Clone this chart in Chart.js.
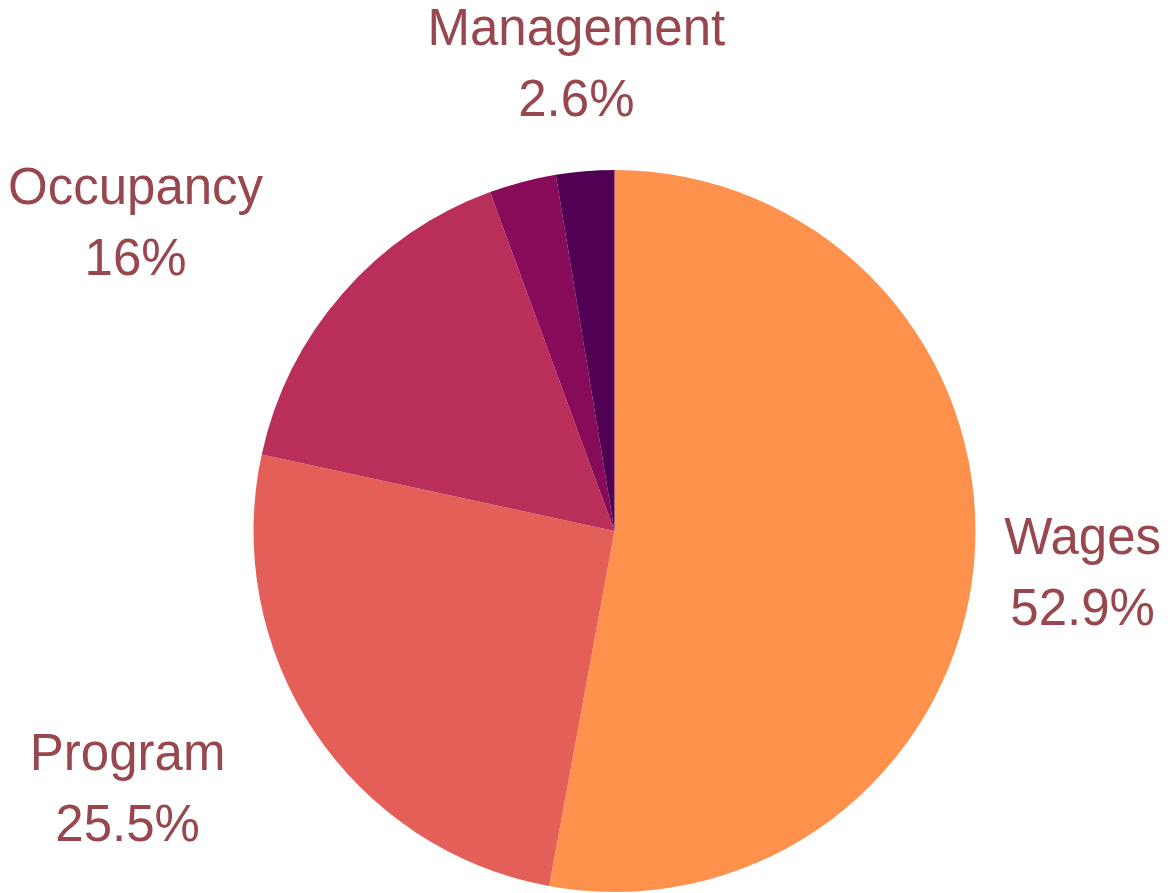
<!DOCTYPE html>
<html>
<head>
<meta charset="utf-8">
<script src="https://cdn.jsdelivr.net/npm/chart.js@4"></script>
<style>
  html, body { margin: 0; padding: 0; background: #fff; }
  #wrap { width: 1171px; height: 893px; }
</style>
</head>
<body>
<div id="wrap"><canvas id="pie"></canvas></div>
<script>
// data
const categories = ['Wages', 'Program', 'Occupancy', 'Other', 'Management'];
const shares = [52.9, 25.5, 16, 3.0, 2.6];
const shareLabels = ['52.9%', '25.5%', '16%', '3%', '2.6%'];
const sliceColors = ['#fe914b', '#e45f58', '#ba2e5a', '#880b5a', '#4f0053'];
const hiddenLabels = ['Other'];

const labelColor = '#97474d';
const labelFont = '51px "Liberation Sans", Arial, sans-serif';

// outside labels, placed along each slice's mid angle
const outsideLabels = {
    id: 'outsideLabels',
    afterDraw(chart) {
        const ctx = chart.ctx;
        const meta = chart.getDatasetMeta(0);
        const W = chart.width;
        ctx.save();
        ctx.font = labelFont;
        ctx.fillStyle = labelColor;
        ctx.textBaseline = 'middle';
        meta.data.forEach((arc, i) => {
            if (hiddenLabels.includes(categories[i])) return;
            const p = arc.getProps(['x', 'y', 'startAngle', 'endAngle', 'outerRadius'], true);
            const mid = (p.startAngle + p.endAngle) / 2;
            const dx = Math.cos(mid), dy = Math.sin(mid);
            const d = p.outerRadius * 1.295;
            const ax = p.x + dx * d;
            const ay = p.y + dy * d;
            const lines = [categories[i], shareLabels[i]];
            const w = Math.max(...lines.map(t => ctx.measureText(t).width));
            let left;
            if (dx > 0.3) left = ax;
            else if (dx < -0.3) left = ax - w;
            else left = ax - w / 2;
            left = Math.max(8, Math.min(left, W - 10 - w));
            ctx.textAlign = 'center';
            ctx.fillText(lines[0], left + w / 2, ay - 34);
            ctx.fillText(lines[1], left + w / 2, ay + 37);
        });
        ctx.restore();
    }
};

const ctx = document.getElementById('pie').getContext('2d');
new Chart(ctx, {
    type: 'pie',
    data: {
        labels: categories,
        datasets: [{
            data: shares,
            backgroundColor: sliceColors,
            borderWidth: 0
        }]
    },
    options: {
        responsive: true,
        maintainAspectRatio: false,
        animation: false,
        layout: { padding: { top: 170, bottom: 1, left: 253, right: 195 } },
        plugins: {
            legend: { display: false },
            tooltip: { enabled: false }
        }
    },
    plugins: [outsideLabels]
});
</script>
</body>
</html>
